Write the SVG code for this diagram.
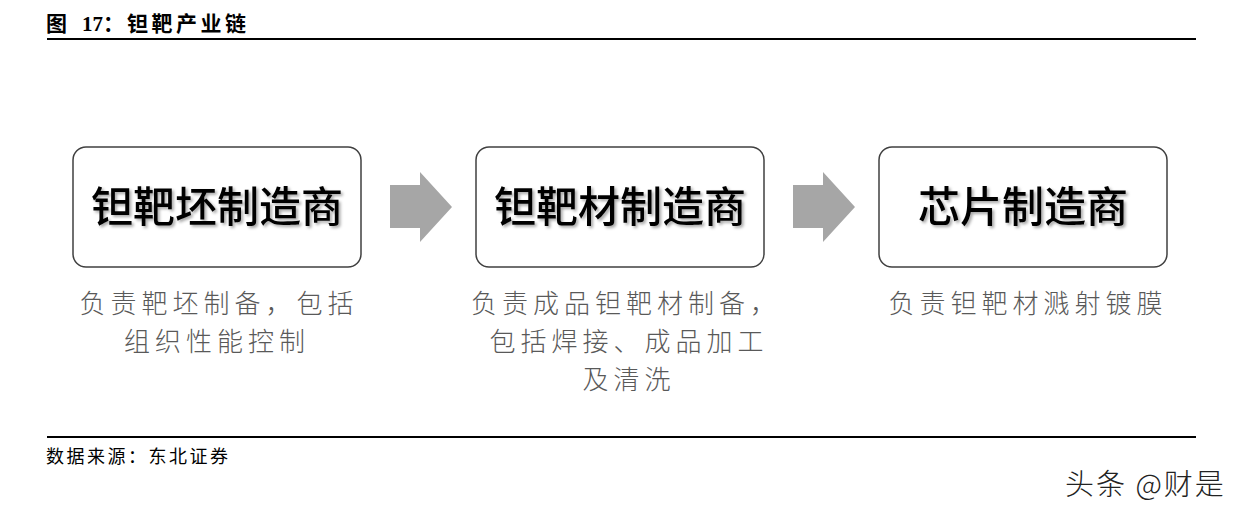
<svg xmlns="http://www.w3.org/2000/svg" width="1246" height="513" viewBox="0 0 1246 513">
<style>
.rule{stroke:#000;stroke-width:2}
.box{fill:#fff;stroke:#404040;stroke-width:1.5}
.ttl{font-family:"Noto Sans CJK SC",sans-serif;font-size:42px;font-weight:500;fill:#000;text-anchor:middle}
.desc{font-family:"Noto Sans CJK SC",sans-serif;font-size:26px;font-weight:300;fill:#595959;text-anchor:middle;letter-spacing:5px}
.arr{fill:#a6a6a6}
</style>
<defs>
<filter id="sh" x="-10%" y="-20%" width="120%" height="150%">
<feDropShadow dx="2" dy="2" stdDeviation="1.5" flood-color="#000" flood-opacity="0.35"/>
</filter>
</defs>
<rect width="1246" height="513" fill="#fff"/>
<text y="31" font-family="Liberation Serif,'Noto Sans CJK SC',serif" font-weight="bold"><tspan x="46" font-size="21">图</tspan><tspan x="82" font-size="21">17：</tspan><tspan x="127" font-size="21" letter-spacing="3.5">钽靶产业链</tspan></text>
<line class="rule" x1="47" y1="39" x2="1196" y2="39"/>
<g id="node1">
<rect class="box" x="73" y="147" width="288" height="120" rx="13"/>
<text class="ttl" x="217" y="222" filter="url(#sh)">钽靶坯制造商</text>
<text class="desc" x="219" y="313">负责靶坯制备，包括</text>
<text class="desc" x="217" y="351">组织性能控制</text>
</g>
<g id="node2">
<rect class="box" x="476" y="147" width="288" height="120" rx="13"/>
<text class="ttl" x="620" y="222" filter="url(#sh)">钽靶材制造商</text>
<text class="desc" x="626" y="313" letter-spacing="4">负责成品钽靶材制备，</text>
<text class="desc" x="629" y="351">包括焊接、成品加工</text>
<text class="desc" x="629" y="389">及清洗</text>
</g>
<g id="node3">
<rect class="box" x="879" y="147" width="288" height="120" rx="13"/>
<text class="ttl" x="1023" y="222" filter="url(#sh)">芯片制造商</text>
<text class="desc" x="1028" y="313">负责钽靶材溅射镀膜</text>
</g>
<g id="connectors">
<polygon class="arr" points="390,185 420,185 420,172 452,207 420,242 420,228 390,228"/>
<polygon class="arr" points="793,185 823,185 823,172 855,207 823,242 823,228 793,228"/>
</g>
<line class="rule" x1="47" y1="437" x2="1196" y2="437"/>
<text x="46" y="463" font-family="Liberation Serif,'Noto Sans CJK SC',serif" font-size="18" letter-spacing="2.5">数据来源：东北证券</text>
<text x="1065" y="495" font-family="'Noto Sans CJK SC',sans-serif" font-size="29" font-weight="300" letter-spacing="2" fill="#222">头条 @财是</text>
</svg>
